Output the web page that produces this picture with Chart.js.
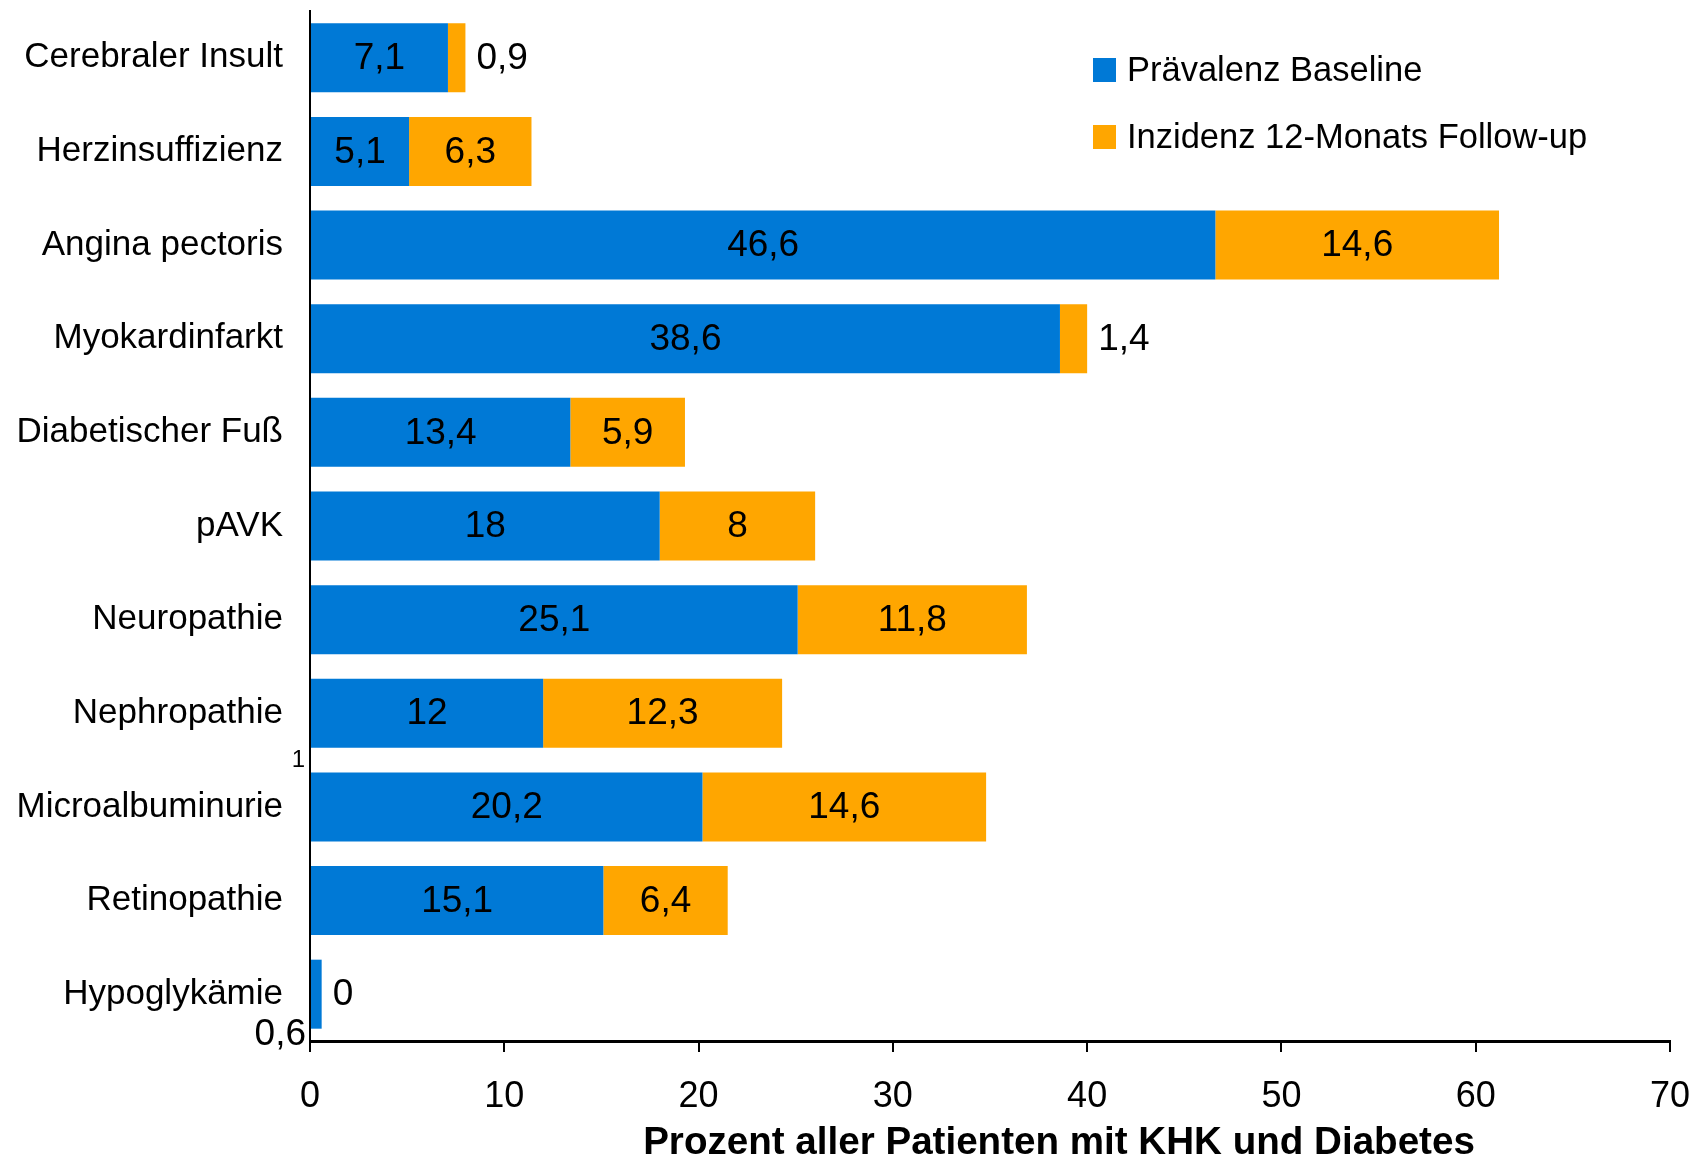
<!DOCTYPE html>
<html lang="de">
<head>
<meta charset="utf-8">
<title>Prävalenz und Inzidenz</title>
<script src="https://cdn.jsdelivr.net/npm/chart.js@4.4.1/dist/chart.umd.min.js"></script>
<style>
  html, body { margin: 0; padding: 0; background: #fff; }
  #wrap { width: 1700px; height: 1159px; }
</style>
</head>
<body>
<div id="wrap"><canvas id="chart" width="1700" height="1159"></canvas></div>
<script>
const categories = [
  'Cerebraler Insult', 'Herzinsuffizienz', 'Angina pectoris', 'Myokardinfarkt',
  'Diabetischer Fuß', 'pAVK', 'Neuropathie', 'Nephropathie',
  'Microalbuminurie', 'Retinopathie', 'Hypoglykämie'
]
const baseline = [7.1, 5.1, 46.6, 38.6, 13.4, 18, 25.1, 12, 20.2, 15.1, 0.6]
const followUp = [0.9, 6.3, 14.6, 1.4, 5.9, 8, 11.8, 12.3, 14.6, 6.4, 0]
const seriesNames = ['Prävalenz Baseline', 'Inzidenz 12-Monats Follow-up']
const xMax = 70
const xStep = 10
// footnote markers placed above a category's bar
const footnotes = { 'Microalbuminurie': '1' }

const FONT = '"Liberation Sans", Arial, sans-serif'
const BLUE = '#0079d6'
const ORANGE = '#ffa600'

const fmt = v => String(v).replace('.', ',')

// value labels: inside the segment when it fits, otherwise beside it
const valueLabels = {
  id: 'valueLabels',
  afterDatasetsDraw(chart) {
    const ctx = chart.ctx
    const area = chart.chartArea
    ctx.save()
    ctx.font = '37px ' + FONT
    ctx.fillStyle = '#000'
    ctx.textBaseline = 'middle'
    chart.data.datasets.forEach((ds, d) => {
      chart.getDatasetMeta(d).data.forEach((bar, i) => {
        const text = fmt(ds.data[i])
        const w = ctx.measureText(text).width
        const segW = Math.abs(bar.x - bar.base)
        if (segW > w + 10) {
          ctx.textAlign = 'center'
          ctx.fillText(text, (bar.x + bar.base) / 2, bar.y + 1)
        } else if (d === 0) {
          ctx.textAlign = 'right'
          ctx.fillText(text, area.left - 4, bar.y + bar.height / 2 + 6)
        } else {
          ctx.textAlign = 'left'
          ctx.fillText(text, bar.x + 11, bar.y + 1)
        }
      })
    })
    // footnote markers
    ctx.font = '24px ' + FONT
    ctx.textAlign = 'right'
    const meta = chart.getDatasetMeta(0)
    categories.forEach((c, i) => {
      if (!footnotes[c]) return
      const bar = meta.data[i]
      ctx.fillText(footnotes[c], area.left - 5, bar.y - bar.height / 2 - 12)
    })
    ctx.restore()
  }
}

// legend inside the plot, upper right, plus the x axis title
const overlay = {
  id: 'overlay',
  afterDraw(chart) {
    const ctx = chart.ctx
    ctx.save()
    ctx.font = '34.5px ' + FONT
    ctx.textBaseline = 'middle'
    ctx.textAlign = 'left'
    chart.data.datasets.forEach((ds, d) => {
      const y = 70 + d * 67
      ctx.fillStyle = ds.backgroundColor
      ctx.fillRect(1093, y - 12, 23, 24)
      ctx.fillStyle = '#000'
      ctx.fillText(ds.label, 1127, y + 1)
    })
    ctx.font = 'bold 38.6px ' + FONT
    ctx.textAlign = 'center'
    ctx.fillText('Prozent aller Patienten mit KHK und Diabetes', 1059, 1143)
    ctx.restore()
  }
}

new Chart(document.getElementById('chart'), {
  type: 'bar',
  data: {
    labels: categories,
    datasets: [
      { label: seriesNames[0], data: baseline, backgroundColor: BLUE },
      { label: seriesNames[1], data: followUp, backgroundColor: ORANGE }
    ]
  },
  options: {
    indexAxis: 'y',
    responsive: false,
    animation: false,
    events: [],
    devicePixelRatio: 1,
    layout: { padding: { top: 11, right: 30, left: 0, bottom: 0 } },
    datasets: { bar: { categoryPercentage: 1, barPercentage: 0.737, borderWidth: 0 } },
    plugins: { legend: { display: false }, tooltip: { enabled: false } },
    scales: {
      x: {
        stacked: true,
        min: 0,
        max: xMax,
        afterFit(scale) {
          scale.height = 118
          scale.paddingRight = 0
        },
        ticks: { stepSize: xStep, color: '#000', padding: 23, font: { family: FONT, size: 36 } },
        grid: { drawOnChartArea: false, drawTicks: true, tickLength: 11, color: '#000', lineWidth: 2 },
        border: { color: '#000', width: 3 }
      },
      y: {
        stacked: true,
        afterFit(scale) {
          scale.width = 310
          scale.paddingTop = 0
          scale.paddingBottom = 0
        },
        ticks: { color: '#000', padding: 27, font: { family: FONT, size: 35 } },
        grid: { display: false, drawTicks: false },
        border: { color: '#000', width: 2 }
      }
    }
  },
  plugins: [valueLabels, overlay]
})
</script>
</body>
</html>
